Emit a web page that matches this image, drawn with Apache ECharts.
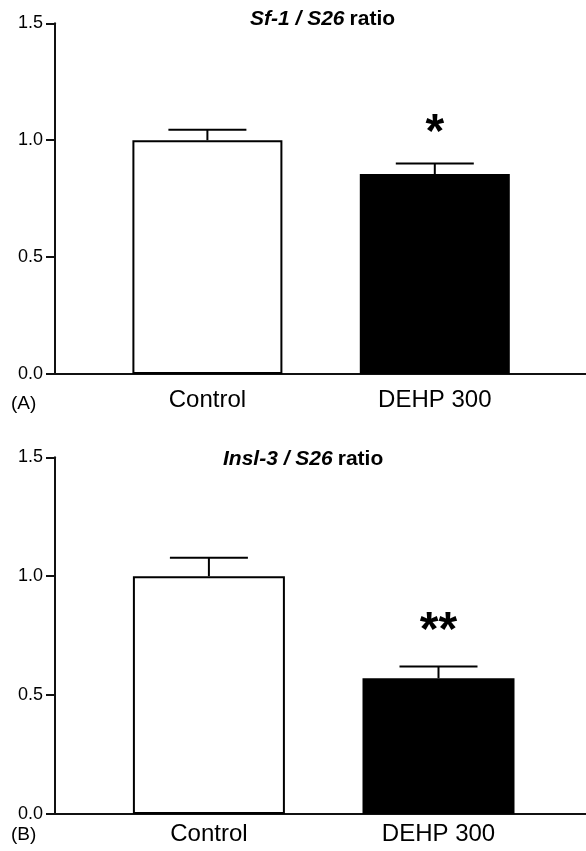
<!DOCTYPE html>
<html>
<head>
<meta charset="utf-8">
<script src="https://cdn.jsdelivr.net/npm/echarts@6/dist/echarts.min.js"></script>
<style>
  html, body { margin: 0; padding: 0; background: #fff; }
  #chart { width: 586px; height: 851px; }
</style>
</head>
<body>
<div id="chart"></div>
<script>
// data
const categories = ['Control', 'DEHP 300']
const sf1Means = [1.0, 0.855]
const sf1Errors = [0.045, 0.045]
const sf1Marks = ['', '*']
const insl3Means = [1.0, 0.571]
const insl3Errors = [0.078, 0.049]
const insl3Marks = ['', '**']
const yMin = 0
const yMax = 1.5
const yStep = 0.5
const barColors = ['#ffffff', '#000000']

const font = 'Liberation Sans, Arial, sans-serif'
const ink = '#111'

const chart = echarts.init(document.getElementById('chart'))

// one panel = a frame grid (axes) + a bar grid (narrower, so bars sit where they do in the paper)
function panel(p, cfg) {
	const frame = p * 2
	const bars = p * 2 + 1
	const grids = [
		{ left: 55, right: 0, top: cfg.top, height: cfg.height },
		{ left: cfg.barLeft, width: cfg.barSpan, top: cfg.top, height: cfg.height },
	]
	const xAxes = [
		{
			gridIndex: frame, type: 'value', min: 0, max: 1,
			axisLine: { show: true, onZero: false, lineStyle: { color: ink, width: 2 } },
			axisTick: { show: false }, axisLabel: { show: false }, splitLine: { show: false },
		},
		{
			gridIndex: bars, type: 'category', data: categories,
			axisLine: { show: false }, axisTick: { show: false },
			axisLabel: { color: '#000', fontSize: 24, fontFamily: font, margin: cfg.labelMargin },
		},
	]
	const yAxes = [
		{
			gridIndex: frame, type: 'value', min: yMin, max: yMax, interval: yStep,
			axisLine: { show: true, lineStyle: { color: ink, width: 2 } },
			axisTick: { show: true, length: 9, lineStyle: { color: ink, width: 2 } },
			axisLabel: { color: '#000', fontSize: 18, fontFamily: font, margin: 12, formatter: (v) => v.toFixed(1) },
			splitLine: { show: false },
		},
		{ gridIndex: bars, type: 'value', min: yMin, max: yMax, show: false },
	]
	const series = [
		{
			type: 'bar',
			xAxisIndex: bars,
			yAxisIndex: bars,
			barWidth: cfg.barWidth,
			data: cfg.means.map((v, i) => ({
				value: v,
				itemStyle: { color: barColors[i], borderColor: '#000', borderWidth: 2 },
			})),
		},
		{
			type: 'custom',
			xAxisIndex: bars,
			yAxisIndex: bars,
			z: 5,
			data: cfg.means.map((v, i) => [i, v, cfg.errors[i]]),
			renderItem: (params, api) => {
				const top = api.coord([api.value(0), api.value(1)])
				const cap = api.coord([api.value(0), api.value(1) + api.value(2)])
				const hw = 39
				const lineStyle = { stroke: '#000', lineWidth: 2 }
				const children = [
					{ type: 'line', shape: { x1: top[0], y1: top[1], x2: cap[0], y2: cap[1] }, style: lineStyle },
					{ type: 'line', shape: { x1: cap[0] - hw, y1: cap[1], x2: cap[0] + hw, y2: cap[1] }, style: lineStyle },
				]
				const mark = cfg.marks[params.dataIndex]
				if (mark) {
					children.push({
						type: 'text',
						style: {
							text: mark, x: cap[0], y: cap[1] - cfg.markGap,
							textAlign: 'center', textVerticalAlign: 'middle',
							font: 'bold 48px ' + font, fill: '#000',
						},
					})
				}
				return { type: 'group', children: children }
			},
		},
	]
	return { grids, xAxes, yAxes, series }
}

const a = panel(0, {
	top: 23.3, height: 350.7, barLeft: 93.7, barSpan: 454.8, barWidth: 150,
	labelMargin: 14, means: sf1Means, errors: sf1Errors, marks: sf1Marks, markGap: 30,
})
const b = panel(1, {
	top: 457.3, height: 356.7, barLeft: 94.1, barSpan: 459.2, barWidth: 152,
	labelMargin: 8, means: insl3Means, errors: insl3Errors, marks: insl3Marks, markGap: 35,
})

const titleRich = {
	i: { fontSize: 21, fontWeight: 'bold', fontStyle: 'italic', fontFamily: font, color: '#000' },
	b: { fontSize: 21, fontWeight: 'bold', fontFamily: font, color: '#000' },
}

const option = {
	backgroundColor: '#fff',
	animation: false,
	title: [
		{ text: '{i|Sf-1 / S26} {b|ratio}', left: 245, top: 4, textStyle: { rich: titleRich } },
		{ text: '{i|Insl-3 / S26} {b|ratio}', left: 218, top: 444, textStyle: { rich: titleRich } },
		{ text: '(A)', left: 6, top: 389, textStyle: { fontSize: 19, fontWeight: 'normal', fontFamily: font, color: '#000' } },
		{ text: '(B)', left: 6, top: 820, textStyle: { fontSize: 19, fontWeight: 'normal', fontFamily: font, color: '#000' } },
	],
	grid: [...a.grids, ...b.grids],
	xAxis: [...a.xAxes, ...b.xAxes],
	yAxis: [...a.yAxes, ...b.yAxes],
	series: [...a.series, ...b.series],
}

chart.setOption(option)
</script>
</body>
</html>
